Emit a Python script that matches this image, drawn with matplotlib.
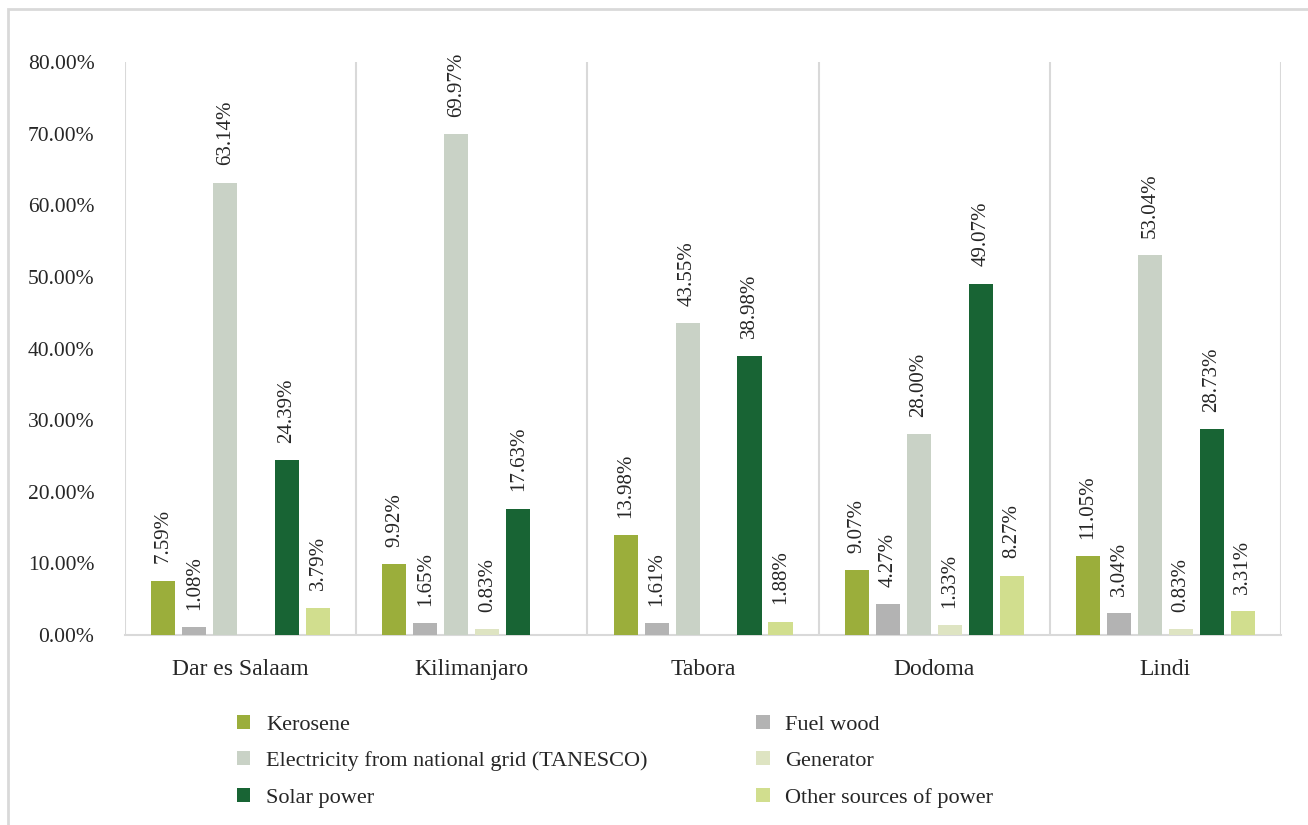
import numpy as np
import matplotlib.pyplot as plt
from matplotlib.patches import Rectangle, Patch

plt.rcParams['font.family'] = ['Liberation Serif', 'DejaVu Serif']

regions = ["Dar es Salaam", "Kilimanjaro", "Tabora", "Dodoma", "Lindi"]
sources = ["Kerosene", "Fuel wood", "Electricity from national grid (TANESCO)",
           "Generator", "Solar power", "Other sources of power"]

# share of households (%), nan = no response recorded
kerosene = [7.59, 9.92, 13.98, 9.07, 11.05]
fuel_wood = [1.08, 1.65, 1.61, 4.27, 3.04]
electricity = [63.14, 69.97, 43.55, 28.00, 53.04]
generator = [np.nan, 0.83, np.nan, 1.33, 0.83]
solar = [24.39, 17.63, 38.98, 49.07, 28.73]
other = [3.79, np.nan, 1.88, 8.27, 3.31]

series = [kerosene, fuel_wood, electricity, generator, solar, other]
colors = ["#9BAE3B", "#B3B3B3", "#C9D2C6", "#DEE4C2", "#186434", "#D1DE8E"]

fig = plt.figure(figsize=(13.08, 8.25), dpi=100)
ax = fig.add_axes([0.0956, 0.2303, 0.8838, 0.6945])

# outer chart frame
fig.patches.append(Rectangle((8 / 1308, -0.1), 1.2, (825 - 9) / 825 + 0.1,
                             transform=fig.transFigure, fill=False,
                             edgecolor="#D9D9D9", linewidth=2))

x = np.arange(len(regions))
slot = 0.134
width = 0.104
for i, (vals, col) in enumerate(zip(series, colors)):
    pos = x + (i - 2.5) * slot
    h = np.nan_to_num(np.array(vals, dtype=float))
    ax.bar(pos, h, width=width, color=col, zorder=3)
    for p, v in zip(pos, vals):
        if np.isnan(v):
            continue
        ax.annotate(f"{v:.2f}%", (p, v), xytext=(0, 12.5), textcoords="offset points",
                    rotation=90, ha="center", va="bottom", fontsize=15,
                    color="#262626")

ax.set_xlim(-0.5, len(regions) - 0.5)
ax.set_ylim(0, 80)
ax.set_yticks(np.arange(0, 81, 10))
ax.set_yticklabels([f"{t:.2f}%" for t in np.arange(0, 81, 10)])
ax.set_xticks(x)
ax.set_xticklabels(regions)
ax.tick_params(axis="both", length=0, colors="#262626")
ax.tick_params(axis="x", pad=17, labelsize=17)
ax.tick_params(axis="y", pad=22, labelsize=15.5)

# category separators
for b in np.arange(-0.5, len(regions), 1.0):
    ax.axvline(b, color="#D9D9D9", linewidth=1.5, zorder=1)

for s in ["top", "right", "left"]:
    ax.spines[s].set_visible(False)
ax.spines["bottom"].set_color("#D9D9D9")
ax.spines["bottom"].set_linewidth(1.5)

handles = [Patch(facecolor=c, edgecolor="none") for c in colors]
order = [0, 2, 4, 1, 3, 5]
fig.legend([handles[k] for k in order], [sources[k] for k in order],
           ncol=2, loc="upper left", bbox_to_anchor=(0.166, 0.158),
           frameon=False, fontsize=16, handlelength=0.6, handleheight=0.6,
           handletextpad=0.7, columnspacing=4.9, labelspacing=0.75,
           labelcolor="#262626")

fig.savefig("out.png", dpi=100, facecolor="white")
